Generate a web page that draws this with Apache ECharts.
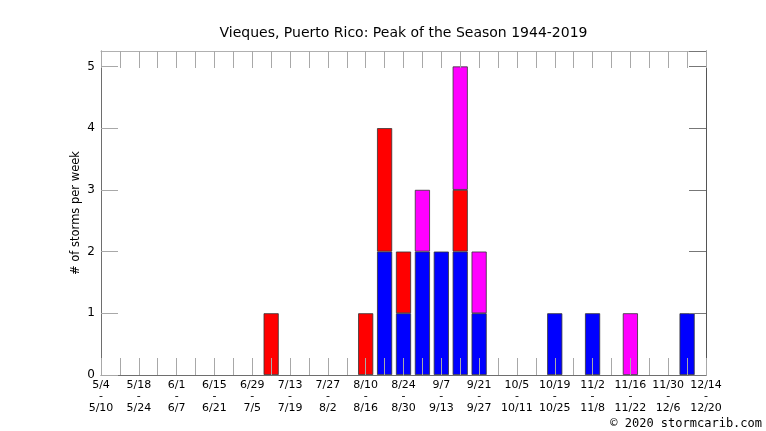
<!DOCTYPE html>
<html><head><meta charset="utf-8">
<script src="https://cdn.jsdelivr.net/npm/echarts@6/dist/echarts.min.js"></script>
<style>html,body{margin:0;padding:0;background:#fff}#c{width:766px;height:431px}</style>
</head><body><div id="c"></div>
<script>
const weekStarts = ["5/4","5/11","5/18","5/25","6/1","6/8","6/15","6/22","6/29","7/6","7/13","7/20","7/27","8/3","8/10","8/17","8/24","8/31","9/7","9/14","9/21","9/28","10/5","10/12","10/19","10/26","11/2","11/9","11/16","11/23","11/30","12/7","12/14"];
const weekEnds = ["5/10","5/17","5/24","5/31","6/7","6/14","6/21","6/28","7/5","7/12","7/19","7/26","8/2","8/9","8/16","8/23","8/30","9/6","9/13","9/20","9/27","10/4","10/11","10/18","10/25","11/1","11/8","11/15","11/22","11/29","12/6","12/13","12/20"];
const blueCounts    = [0,0,0,0,0,0,0,0,0,0,0,0,0,0,0,2,1,2,2,2,1,0,0,0,1,0,1,0,0,0,0,1,0];
const redCounts     = [0,0,0,0,0,0,0,0,0,1,0,0,0,0,1,2,1,0,0,1,0,0,0,0,0,0,0,0,0,0,0,0,0];
const magentaCounts = [0,0,0,0,0,0,0,0,0,0,0,0,0,0,0,0,0,1,0,2,1,0,0,0,0,0,0,0,1,0,0,0,0];
const yTicks = [0,1,2,3,4,5];
const titleText = "Vieques, Puerto Rico: Peak of the Season 1944-2019";
const yName = "# of storms per week";
const credit = "\u00a9 2020 stormcarib.com";

const chart = echarts.init(document.getElementById('c'), null, {renderer:'canvas'});
const font = 'DejaVu Sans';
const frame = '#6e6e6e';
const tickC = '#a8a8a8';
function mk(name, arr, color){
  return {name, type:'bar', stack:'s', data: arr.map(v => v ? v : null), barWidth:'80%',
    itemStyle:{color, borderColor:'#333', borderWidth:0.8}, z:2};
}
chart.setOption({
  animation:false,
  grid:{left:101, right:60, top:51, bottom:56, show:false},
  xAxis:[
    {type:'category', data:weekStarts, boundaryGap:false, position:'bottom', z:5,
     axisLine:{onZero:false, lineStyle:{color:frame, width:1}},
     axisTick:{inside:true, length:17, interval:0, lineStyle:{color:tickC}},
     axisLabel:{interval:1, margin:4, color:'#000', fontFamily:font, fontSize:11, lineHeight:11.5,
       formatter:(v,i)=> v + '\n-\n' + weekEnds[weekStarts.indexOf(v)]}},
    {type:'category', data:weekStarts, boundaryGap:false, position:'top', z:5,
     axisLine:{onZero:false, lineStyle:{color:'#b0b0b0', width:1}},
     axisTick:{inside:true, length:17, interval:0, lineStyle:{color:tickC}},
     axisLabel:{show:false}}
  ],
  yAxis:[
    {type:'value', min:0, max:5.25, interval:1, position:'left', z:5,
     axisLine:{show:true, onZero:false, lineStyle:{color:frame}},
     axisTick:{show:true, inside:true, length:17, lineStyle:{color:tickC}},
     splitLine:{show:false},
     axisLabel:{margin:6, color:'#000', fontFamily:font, fontSize:12, showMaxLabel:false,
       formatter:v => yTicks.indexOf(v) >= 0 ? String(v) : ''}},
    {type:'value', min:0, max:5.25, interval:1, position:'right', z:5,
     axisLine:{show:true, onZero:false, lineStyle:{color:'#555'}},
     axisTick:{show:true, inside:true, length:17, lineStyle:{color:'#777'}},
     splitLine:{show:false}, axisLabel:{show:false}}
  ],
  series:[ mk('blue', blueCounts, '#0000ff'), mk('red', redCounts, '#ff0000'), mk('magenta', magentaCounts, '#ff00ff') ],
  graphic:[
    {type:'text', x:403.5, y:33, style:{text:titleText, fontFamily:font, fontSize:14, fill:'#000', textAlign:'center', textVerticalAlign:'middle'}},
    {type:'text', x:76, y:213, rotation:Math.PI/2, style:{text:yName, fontFamily:font, fontSize:11.5, fill:'#000', textAlign:'center', textVerticalAlign:'middle'}},
    {type:'text', x:762, y:424, style:{text:credit, fontFamily:'DejaVu Sans Mono', fontSize:12, fill:'#000', textAlign:'right', textVerticalAlign:'middle'}}
  ]
});
</script></body></html>
